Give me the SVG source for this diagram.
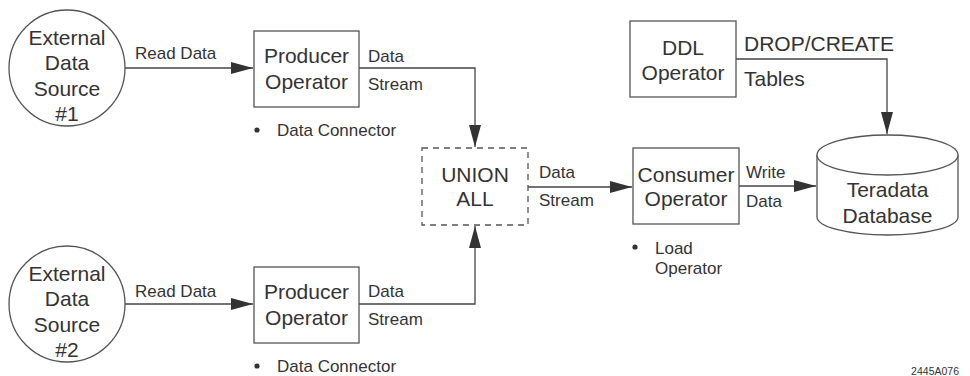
<svg xmlns="http://www.w3.org/2000/svg" width="970" height="376" viewBox="0 0 970 376">
<style>
text{font-family:"Liberation Sans",Arial,sans-serif;fill:#333}
.big{font-size:21px}
.lbl{font-size:17px}
.c{text-anchor:middle}
.shape{fill:#fff;stroke:#555;stroke-width:1.3}
.dash{fill:#fff;stroke:#555;stroke-width:1.3;stroke-dasharray:6,5}
.conn{fill:none;stroke:#444;stroke-width:1.3;marker-end:url(#ah)}
</style>
<defs>
<marker id="ah" viewBox="0 0 22 12" refX="22" refY="6" markerWidth="22" markerHeight="12" orient="auto" markerUnits="userSpaceOnUse"><path d="M0,0 L22,6 L0,12 z" fill="#333"/></marker>
</defs>
<rect width="970" height="376" fill="#fff"/>
<g id="connectors">
<path class="conn" d="M125,68 H253"/>
<path class="conn" d="M125,304 H253"/>
<path class="conn" d="M359,68 H475 V147"/>
<path class="conn" d="M359,304 H475 V226"/>
<path class="conn" d="M528,187 H632"/>
<path class="conn" d="M739,186 H816"/>
<path class="conn" d="M736,59 H887 V134"/>
<text class="lbl" x="135" y="59">Read Data</text>
<text class="lbl" x="135" y="297">Read Data</text>
<text class="lbl" x="368" y="62">Data</text>
<text class="lbl" x="368" y="90">Stream</text>
<text class="lbl" x="368" y="297">Data</text>
<text class="lbl" x="368" y="325">Stream</text>
<text class="lbl" x="539" y="178">Data</text>
<text class="lbl" x="539" y="206">Stream</text>
<text class="lbl" x="746" y="178">Write</text>
<text class="lbl" x="746" y="207">Data</text>
<text class="big" x="744" y="51">DROP/CREATE</text>
<text class="big" x="744" y="86">Tables</text>
</g>
<g id="src1">
<circle class="shape" cx="67" cy="68" r="58"/>
<text class="big c" x="67" y="45">External</text>
<text class="big c" x="67" y="70">Data</text>
<text class="big c" x="67" y="96">Source</text>
<text class="big c" x="67" y="121">#1</text>
</g>
<g id="src2">
<circle class="shape" cx="67" cy="304" r="58"/>
<text class="big c" x="67" y="281">External</text>
<text class="big c" x="67" y="306">Data</text>
<text class="big c" x="67" y="332">Source</text>
<text class="big c" x="67" y="357">#2</text>
</g>
<g id="producer1">
<rect class="shape" x="254" y="31" width="105" height="76"/>
<text class="big c" x="306.5" y="63">Producer</text>
<text class="big c" x="306.5" y="89">Operator</text>
<circle cx="257" cy="130" r="2.6" fill="#333"/>
<text class="lbl" x="277" y="136">Data Connector</text>
</g>
<g id="producer2">
<rect class="shape" x="254" y="267" width="105" height="76"/>
<text class="big c" x="306.5" y="299">Producer</text>
<text class="big c" x="306.5" y="325">Operator</text>
<circle cx="257" cy="366" r="2.6" fill="#333"/>
<text class="lbl" x="277" y="372">Data Connector</text>
</g>
<g id="union">
<rect class="dash" x="422" y="148" width="106" height="77"/>
<text class="big c" x="475" y="182">UNION</text>
<text class="big c" x="475" y="206">ALL</text>
</g>
<g id="consumer">
<rect class="shape" x="633" y="148" width="106" height="76"/>
<text class="big c" x="686" y="182">Consumer</text>
<text class="big c" x="686" y="206">Operator</text>
<circle cx="635" cy="247" r="2.6" fill="#333"/>
<text class="lbl" x="655" y="254">Load</text>
<text class="lbl" x="655" y="274">Operator</text>
</g>
<g id="ddl">
<rect class="shape" x="630" y="21" width="106" height="76"/>
<text class="big c" x="683" y="55">DDL</text>
<text class="big c" x="683" y="80">Operator</text>
</g>
<g id="database">
<path class="shape" d="M817,155 V217 A70.5,18 0 0 0 958,217 V155"/>
<ellipse class="shape" cx="887.5" cy="155" rx="70.5" ry="20"/>
<text class="big c" x="887.5" y="197">Teradata</text>
<text class="big c" x="887.5" y="223">Database</text>
</g>
<text x="959" y="375" font-size="10.5" text-anchor="end">2445A076</text>
</svg>
